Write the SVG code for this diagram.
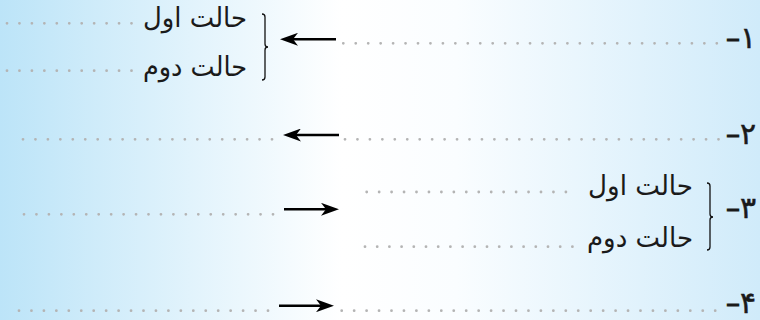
<svg xmlns="http://www.w3.org/2000/svg" width="760" height="320" viewBox="0 0 760 320">
<defs>
<linearGradient id="bg" x1="0" y1="0" x2="1" y2="0">
<stop offset="0" stop-color="#bce4f8"/>
<stop offset="0.45" stop-color="#ffffff"/>
<stop offset="0.6" stop-color="#fafdff"/>
<stop offset="1" stop-color="#d0ebfa"/>
</linearGradient>
<marker id="ah" viewBox="0 0 18 13" refX="5" refY="6.5" markerWidth="18" markerHeight="13" markerUnits="userSpaceOnUse" orient="auto">
<path d="M0,0 L18,6.5 L0,13 L5,6.5 Z" fill="#000"/>
</marker>
<style>
.dots{stroke:#b4b4b4;stroke-width:2.8;stroke-linecap:round;stroke-dasharray:0 12.45;fill:none}
.arr{stroke:#000;stroke-width:2.6;fill:none;marker-end:url(#ah)}
.brace{stroke:#111;stroke-width:1.3;fill:none}
.t{font-family:"DejaVu Sans",sans-serif;font-size:27px;fill:#1a1a1a}
.n{font-family:"DejaVu Sans",sans-serif;font-size:30px;fill:#1a1a1a;stroke:#1a1a1a;stroke-width:0.5}
.d{font-size:28px;stroke-width:1.2}
</style>
</defs>
<rect width="760" height="320" fill="url(#bg)"/>
<g id="connectors">
<line class="dots" x1="343.3" y1="43.3" x2="717" y2="43.3"/>
<line class="dots" x1="7" y1="23.3" x2="132" y2="23.3"/>
<line class="dots" x1="7" y1="70.7" x2="132" y2="70.7"/>
<line class="dots" x1="345" y1="139.3" x2="719.5" y2="139.3"/>
<line class="dots" x1="23" y1="139.3" x2="273" y2="139.3"/>
<line class="dots" x1="24" y1="214.3" x2="274" y2="214.3"/>
<line class="dots" x1="366.7" y1="192" x2="578" y2="192"/>
<line class="dots" x1="365" y1="246.7" x2="573" y2="246.7" style="stroke-dasharray:0 12.2"/>
<line class="dots" x1="19" y1="310.7" x2="269" y2="310.7"/>
<line class="dots" x1="341.7" y1="310.7" x2="715.5" y2="310.7"/>
<path class="arr" d="M336,39.3 L293,39.3"/>
<path class="arr" d="M339,135 L296,135"/>
<path class="arr" d="M284,209.3 L326,209.3"/>
<path class="arr" d="M279,305.7 L321,305.7"/>
</g>
<g id="item1">
<text class="n" x="726" y="48"><tspan class="d">–</tspan>۱</text>
<path class="brace" d="M262,14 Q265,14 265,17 L265,44 Q265,47 268,47 Q265,47 265,50 L265,77 Q265,80 262,80"/>
<text class="t" x="247" y="27" text-anchor="end" textLength="104" lengthAdjust="spacingAndGlyphs">حالت اول</text>
<text class="t" x="247" y="76" text-anchor="end" textLength="104" lengthAdjust="spacingAndGlyphs">حالت دوم</text>
</g>
<g id="item2">
<text class="n" x="726" y="144"><tspan class="d">–</tspan>۲</text>
</g>
<g id="item3">
<text class="n" x="726" y="218"><tspan class="d">–</tspan>۳</text>
<path class="brace" d="M707,183 Q710,183 710,186 L710,214 Q710,217 713,217 Q710,217 710,220 L710,247 Q710,250 707,250"/>
<text class="t" x="693" y="195" text-anchor="end" textLength="105" lengthAdjust="spacingAndGlyphs">حالت اول</text>
<text class="t" x="693" y="247" text-anchor="end" textLength="106" lengthAdjust="spacingAndGlyphs">حالت دوم</text>
</g>
<g id="item4">
<text class="n" x="726" y="313"><tspan class="d">–</tspan>۴</text>
</g>
</svg>
